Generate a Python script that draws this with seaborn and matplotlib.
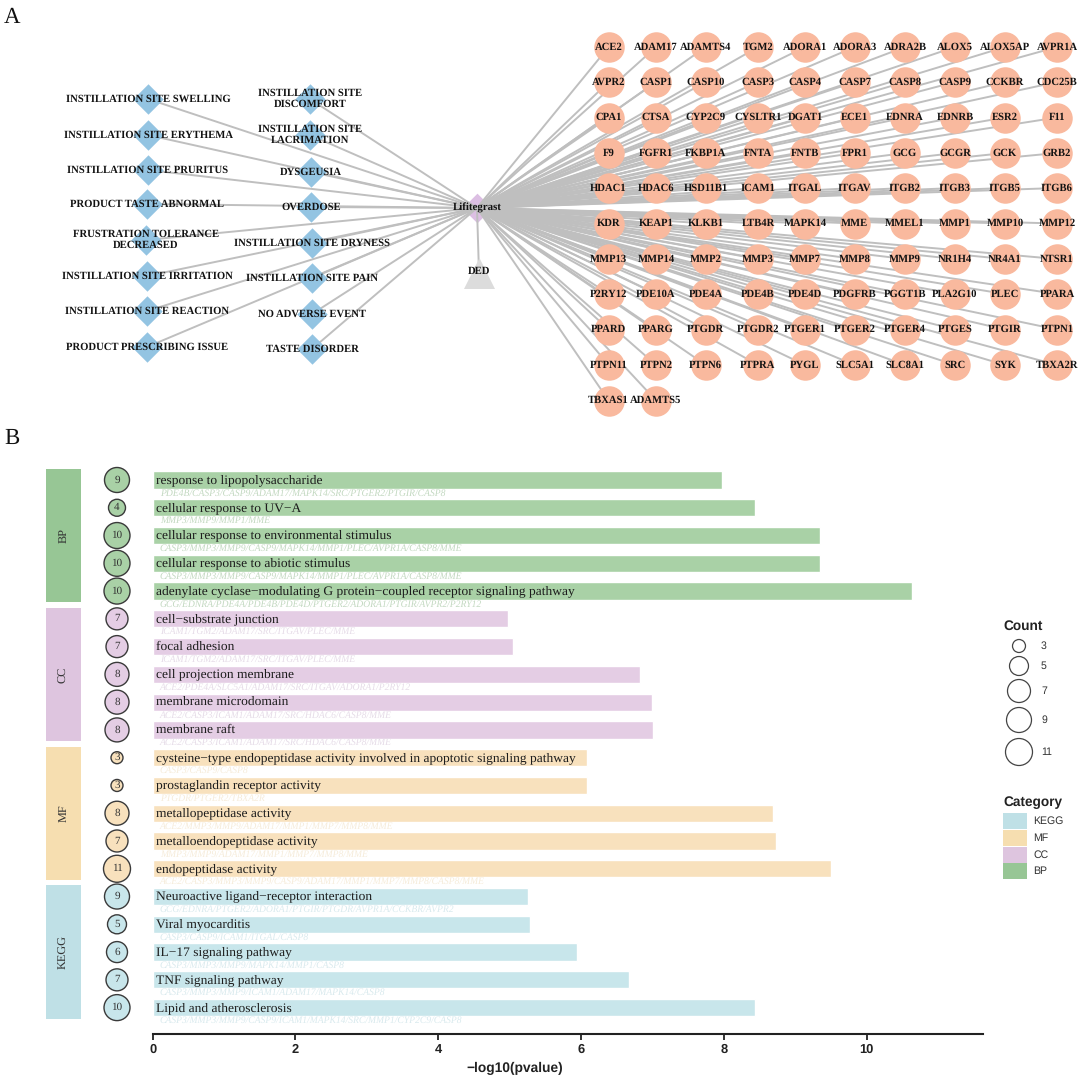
import numpy as np
import pandas as pd
import matplotlib
matplotlib.use("Agg")
import matplotlib.pyplot as plt
from matplotlib.collections import LineCollection
from matplotlib.patches import Rectangle
import seaborn as sns

terms = ["response to lipopolysaccharide", "cellular response to UV−A",
         "cellular response to environmental stimulus", "cellular response to abiotic stimulus",
         "adenylate cyclase−modulating G protein−coupled receptor signaling pathway",
         "cell−substrate junction", "focal adhesion", "cell projection membrane",
         "membrane microdomain", "membrane raft",
         "cysteine−type endopeptidase activity involved in apoptotic signaling pathway",
         "prostaglandin receptor activity", "metallopeptidase activity",
         "metalloendopeptidase activity", "endopeptidase activity",
         "Neuroactive ligand−receptor interaction", "Viral myocarditis",
         "IL−17 signaling pathway", "TNF signaling pathway", "Lipid and atherosclerosis"]
logp = [7.97, 8.44, 9.34, 9.34, 10.64, 4.97, 5.04, 6.82, 7.00, 7.01,
        6.09, 6.09, 8.69, 8.73, 9.50, 5.25, 5.28, 5.94, 6.67, 8.44]
counts = [9, 4, 10, 10, 10, 7, 7, 8, 8, 8, 3, 3, 8, 7, 11, 9, 5, 6, 7, 10]
categories = ["BP"] * 5 + ["CC"] * 5 + ["MF"] * 5 + ["KEGG"] * 5
genes = ["PDE4B/CASP3/CASP9/ADAM17/MAPK14/SRC/PTGER2/PTGIR/CASP8",
         "MMP3/MMP9/MMP1/MME",
         "CASP3/MMP3/MMP9/CASP9/MAPK14/MMP1/PLEC/AVPR1A/CASP8/MME",
         "CASP3/MMP3/MMP9/CASP9/MAPK14/MMP1/PLEC/AVPR1A/CASP8/MME",
         "GCG/EDNRA/PDE4A/PDE4B/PDE4D/PTGER2/ADORA1/PTGIR/AVPR2/P2RY12",
         "ICAM1/TGM2/ADAM17/SRC/ITGAV/PLEC/MME",
         "ICAM1/TGM2/ADAM17/SRC/ITGAV/PLEC/MME",
         "ACE2/PDE4A/SLC5A1/ADAM17/SRC/ITGAV/ADORA1/P2RY12",
         "ACE2/CASP3/ICAM1/ADAM17/SRC/HDAC6/CASP8/MME",
         "ACE2/CASP3/ICAM1/ADAM17/SRC/HDAC6/CASP8/MME",
         "CASP3/CASP9/CASP8",
         "PTGDR/PTGER2/TBXA2R",
         "ACE2/MMP3/MMP9/ADAM17/MMP1/MMP7/MMP8/MME",
         "MMP3/MMP9/ADAM17/MMP1/MMP7/MMP8/MME",
         "ACE2/CASP3/MMP3/MMP9/CASP9/ADAM17/MMP1/MMP7/MMP8/CASP8/MME",
         "GCG/EDNRA/PTGER2/ADORA1/PTGIR/PTGDR/AVPR1A/CCKBR/AVPR2",
         "CASP3/CASP9/ICAM1/ITGAL/CASP8",
         "CASP3/MMP3/MMP9/MAPK14/MMP1/CASP8",
         "CASP3/MMP3/MMP9/ICAM1/ADAM17/MAPK14/CASP8",
         "CASP3/MMP3/MMP9/CASP9/ICAM1/MAPK14/SRC/MMP1/CYP2C9/CASP8"]

targets = ["ACE2", "ADAM17", "ADAMTS4", "TGM2", "ADORA1", "ADORA3", "ADRA2B", "ALOX5", "ALOX5AP", "AVPR1A",
           "AVPR2", "CASP1", "CASP10", "CASP3", "CASP4", "CASP7", "CASP8", "CASP9", "CCKBR", "CDC25B",
           "CPA1", "CTSA", "CYP2C9", "CYSLTR1", "DGAT1", "ECE1", "EDNRA", "EDNRB", "ESR2", "F11",
           "F9", "FGFR1", "FKBP1A", "FNTA", "FNTB", "FPR1", "GCG", "GCGR", "GCK", "GRB2",
           "HDAC1", "HDAC6", "HSD11B1", "ICAM1", "ITGAL", "ITGAV", "ITGB2", "ITGB3", "ITGB5", "ITGB6",
           "KDR", "KEAP1", "KLKB1", "LTB4R", "MAPK14", "MME", "MMEL1", "MMP1", "MMP10", "MMP12",
           "MMP13", "MMP14", "MMP2", "MMP3", "MMP7", "MMP8", "MMP9", "NR1H4", "NR4A1", "NTSR1",
           "P2RY12", "PDE10A", "PDE4A", "PDE4B", "PDE4D", "PDGFRB", "PGGT1B", "PLA2G10", "PLEC", "PPARA",
           "PPARD", "PPARG", "PTGDR", "PTGDR2", "PTGER1", "PTGER2", "PTGER4", "PTGES", "PTGIR", "PTPN1",
           "PTPN11", "PTPN2", "PTPN6", "PTPRA", "PYGL", "SLC5A1", "SLC8A1", "SRC", "SYK", "TBXA2R",
           "TBXAS1", "ADAMTS5"]
grid_cols = [608.6, 656, 705.7, 758, 805, 854.7, 905, 955, 1005, 1057]
grid_rows = [47, 82, 117.5, 153, 188, 223.5, 259, 294, 329.5, 365, 400.5]

adverse_a = ["INSTILLATION SITE SWELLING", "INSTILLATION SITE ERYTHEMA", "INSTILLATION SITE PRURITUS",
             "PRODUCT TASTE ABNORMAL", "FRUSTRATION TOLERANCE\nDECREASED", "INSTILLATION SITE IRRITATION",
             "INSTILLATION SITE REACTION", "PRODUCT PRESCRIBING ISSUE"]
adverse_a_x = [148, 148, 148, 147, 146, 147, 147, 147]
adverse_a_y = [99, 135, 170, 204, 240, 276, 311, 347]
adverse_b = ["INSTILLATION SITE\nDISCOMFORT", "INSTILLATION SITE\nLACRIMATION", "DYSGEUSIA", "OVERDOSE",
             "INSTILLATION SITE DRYNESS", "INSTILLATION SITE PAIN", "NO ADVERSE EVENT", "TASTE DISORDER"]
adverse_b_x = [310, 310, 311, 311, 312, 312, 312, 312]
adverse_b_y = [99, 135, 172, 207, 243, 278, 314, 349]
hub_name, hub_x, hub_y = "Lifitegrast", 477, 208
disease_name, disease_x, disease_y = "DED", 479, 273

legend_counts = [3, 5, 7, 9, 11]
legend_count_y = [646, 666, 691, 720, 752]
legend_cats = ["KEGG", "MF", "CC", "BP"]
legend_cat_y = [821, 838, 855, 871]
strip_centers = {"BP": 2, "CC": 7, "MF": 12, "KEGG": 17}

# styles
size_px = {3: 12, 4: 17, 5: 19, 6: 21, 7: 22, 8: 24, 9: 25, 10: 26, 11: 27}
bar_col = {"BP": "#a9d1a6", "CC": "#e4cde4", "MF": "#f8e1bd", "KEGG": "#c8e6eb"}
strip_col = {"BP": "#97c695", "CC": "#dec5df", "MF": "#f6deb0", "KEGG": "#bfe0e6"}
gene_col = {"BP": "#c3d9c1", "CC": "#e6dce8", "MF": "#f6ecda", "KEGG": "#d9eaee"}
SERIF = "Liberation Serif"
SANS = "Liberation Sans"

sns.set_theme(style="white")
plt.rcParams["font.family"] = [SERIF, "DejaVu Sans"]
plt.rcParams["text.hinting"] = "no_hinting"

W, H = 1080, 1078
fig = plt.figure(figsize=(W / 100, H / 100), dpi=100, facecolor="white")

def px_axes(x0, x1, y0, y1):
    return fig.add_axes([x0 / W, 1 - y1 / H, (x1 - x0) / W, (y1 - y0) / H])

def pts2(d):
    return (d * 0.72) ** 2

# ---------- panel B bars
df = pd.DataFrame({"term": terms, "logp": logp, "count": counts, "cat": categories, "genes": genes})
ax = px_axes(152.7, 983, 466, 1034)
ax.patch.set_alpha(0)
sns.barplot(data=df, y="term", x="logp", hue="cat", palette=bar_col, dodge=False,
            width=0.62, legend=False, ax=ax, saturation=1, order=terms, errorbar=None)
ax.set_xlim(0, 11.63)
ax.set_ylim(19.95, -0.504)
ax.set_yticks([])
ax.set_ylabel("")
for s in ["top", "left", "right"]:
    ax.spines[s].set_visible(False)
ax.spines["bottom"].set_linewidth(1.5)
ax.spines["bottom"].set_color("#222222")
ax.set_xticks([0, 2, 4, 6, 8, 10])
ax.tick_params(axis="x", length=4, width=1.3, color="#222222", pad=3, bottom=True)
for t in ax.get_xticklabels():
    t.set_fontfamily(SANS); t.set_fontweight("bold"); t.set_fontsize(9.3); t.set_color("#222222")
ax.set_xlabel("−log10(pvalue)", fontfamily=SANS, fontweight="bold", fontsize=9.9, color="#222222",
              labelpad=4, x=0.436)
for i, row in df.iterrows():
    ax.text(0.045, i, row["term"], va="center", ha="left", fontsize=9.7, color="#1c1c1c", zorder=5)
    ax.text(0.10, i + 0.47, row["genes"], va="center", ha="left", fontsize=6.9, style="italic",
            color=gene_col[row["cat"]], zorder=1)

# ---------- strips and count circles
side = px_axes(0, 152.7, 466, 1034)
side.set_xlim(0, 152.7)
side.set_ylim(19.95, -0.504)
side.axis("off")
for cat, c in strip_centers.items():
    side.barh(c, 35, left=46, height=4.8, color=strip_col[cat], linewidth=0)
    side.text(63.5, c, cat, rotation=90, ha="center", va="center", fontsize=8.8, color="#333333")
df["side_x"] = 117
for cat in strip_centers:
    sub = df[df["cat"] == cat]
    sns.scatterplot(data=sub, x="side_x", y=sub.index.to_numpy(), s=[pts2(size_px[c]) for c in sub["count"]],
                    color=bar_col[cat], edgecolor="#3a3a3a", linewidth=1.0, ax=side, legend=False, clip_on=False)
side.set_xlabel(""); side.set_ylabel("")
for i, c in enumerate(counts):
    side.text(117, i, str(c), ha="center", va="center", fontsize=8, color="#333333")

# ---------- overlay: network and legends
ov = px_axes(0, W, 0, H)
ov.set_xlim(0, W)
ov.set_ylim(H, 0)
ov.axis("off")
ov.patch.set_alpha(0)

tx = [grid_cols[i % 10] for i in range(len(targets))]
ty = [grid_rows[i // 10] for i in range(len(targets))]
nodes = pd.DataFrame({"x": tx, "y": ty})
all_x = tx + adverse_a_x + adverse_b_x + [disease_x]
all_y = ty + adverse_a_y + adverse_b_y + [disease_y]

sns.scatterplot(x=[hub_x], y=[hub_y], marker="D", s=pts2(21), color="#dcbfe3", linewidth=0, ax=ov, zorder=1, legend=False)
segs = [[(hub_x, hub_y), (x, y)] for x, y in zip(all_x, all_y)]
ov.add_collection(LineCollection(segs, colors="#bfbfbf", linewidths=1.4, zorder=2))
sns.scatterplot(data=nodes, x="x", y="y", s=pts2(30.5), color="#f9b99e", linewidth=0, ax=ov, zorder=3, legend=False)
sns.scatterplot(x=adverse_a_x + adverse_b_x, y=adverse_a_y + adverse_b_y, marker="D", s=pts2(21.5),
                color="#93c4e2", linewidth=0, ax=ov, zorder=3, legend=False)
sns.scatterplot(x=[disease_x], y=[disease_y], marker="^", s=pts2(31), color="#dcdcdc", linewidth=0, ax=ov, zorder=3, legend=False)

bold = dict(fontweight="bold", ha="center", va="center", color="#111111", zorder=6)
for n, x, y in zip(targets, tx, ty):
    ov.text(x, y, n, fontsize=7.65, **bold)
for n, x, y in zip(adverse_a + adverse_b, adverse_a_x + adverse_b_x, adverse_a_y + adverse_b_y):
    ov.text(x, y, n, fontsize=7.65, linespacing=1.12, **bold)
ov.text(hub_x, hub_y, hub_name, fontsize=7.8, **bold)
ov.text(disease_x, disease_y - 2, disease_name, fontsize=7.65, **bold)

ov.text(4, 17, "A", fontsize=16.5, ha="left", va="center", color="#111111")
ov.text(4, 438, "B", fontsize=16.5, ha="left", va="center", color="#111111")

# legends
ov.text(1003, 626, "Count", fontfamily=SANS, fontweight="bold", fontsize=9.8, ha="left", va="center", color="#222222")
leg_d = [13, 19, 23, 25, 27]
sns.scatterplot(x=[1019] * 5, y=legend_count_y, s=[pts2(d) for d in leg_d], color="white",
                edgecolor="#444444", linewidth=0.9, ax=ov, legend=False, zorder=3)
for c, y in zip(legend_counts, legend_count_y):
    ov.text(1041, y, str(c), fontfamily=SANS, fontsize=7.6, ha="left", va="center", color="#333333")
ov.text(1003, 802, "Category", fontfamily=SANS, fontweight="bold", fontsize=9.8, ha="left", va="center", color="#222222")
for c, y in zip(legend_cats, legend_cat_y):
    ov.add_patch(Rectangle((1003, y - 8), 24, 16, facecolor=strip_col[c], linewidth=0))
    ov.text(1033, y, c, fontfamily=SANS, fontsize=7.6, ha="left", va="center", color="#333333")
ov.set_xlabel(""); ov.set_ylabel("")
ov.set_xlim(0, W); ov.set_ylim(H, 0)

fig.savefig("out.png", dpi=100)
